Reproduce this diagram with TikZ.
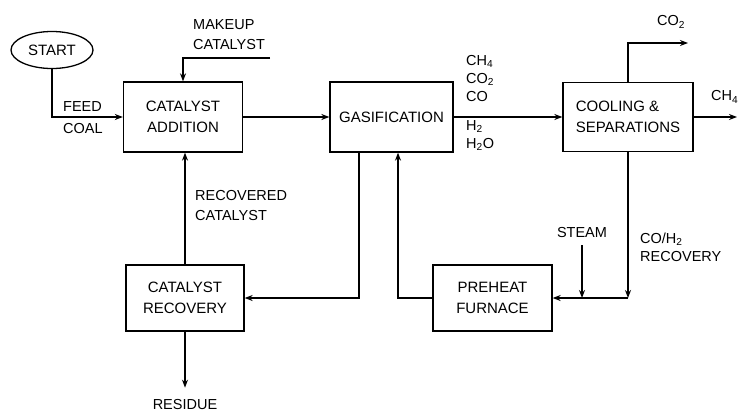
\documentclass[tikz,border=0pt]{standalone}
\usepackage{fontspec}
\setmainfont{Liberation Sans}
\usetikzlibrary{shapes.geometric, arrows.meta, positioning}

\begin{document}
\begin{tikzpicture}[
    x=1pt, y=-1pt,
    >={Stealth[length=8pt,width=6pt]},
    box/.style={rectangle, draw, line width=1.3pt, minimum width=#1, minimum height=68pt, inner sep=0pt, align=center, font=\fontsize{15}{21}\selectfont},
    box/.default=120pt,
    lbl/.style={font=\fontsize{14.5}{20}\selectfont, inner sep=0pt, align=left},
    gaslbl/.style={font=\fontsize{14.5}{18}\selectfont, inner sep=0pt, align=left},
    arr/.style={->, line width=1.3pt}
]
\useasboundingbox (0,0) rectangle (738,415);

% Top row: start, addition, gasification, cooling
\node[ellipse, draw, line width=1.3pt, minimum width=82pt, minimum height=37pt, inner sep=0pt, font=\fontsize{15}{17}\selectfont] (start) at (52,50) {START};
\node[box=119pt, minimum height=70pt] (add) at (183,117) {CATALYST\\ADDITION};
\node[box=123pt, minimum height=70pt] (gas) at (391.5,117) {GASIFICATION};
\node[box=130pt, minimum height=69pt, align=left] (cool) at (628,117) {COOLING \&\\SEPARATIONS};

% Bottom row: recovery and furnace
\node[box=118pt, minimum height=66pt] (rec) at (185,298) {CATALYST\\RECOVERY};
\node[box=119pt, minimum height=66pt] (pre) at (492.5,298) {PREHEAT\\FURNACE};

% Stream labels
\node[lbl, anchor=south west] (feed) at (63,112) {FEED};
\node[lbl, anchor=north west] (coal) at (63,123) {COAL};
\node[lbl, anchor=south west] (mkup) at (193,50) {MAKEUP\\CATALYST};
\node[gaslbl, anchor=south west] (prodtop) at (466,102) {CH\textsubscript{4}\\CO\textsubscript{2}\\CO};
\node[gaslbl, anchor=north west] (prodbot) at (466,120) {H\textsubscript{2}\\H\textsubscript{2}O};
\node[lbl] (co2) at (671,22) {CO\textsubscript{2}};
\node[lbl, anchor=west] (ch4) at (711,97) {CH\textsubscript{4}};
\node[lbl, anchor=north west] (reccat) at (195,190) {RECOVERED\\CATALYST};
\node[lbl] (res) at (185,405) {RESIDUE};
\node[lbl] (steam) at (582,233) {STEAM};
\node[gaslbl, anchor=north west] (coh2) at (640,233) {CO/H\textsubscript{2}\\RECOVERY};

% free ends
\coordinate (mkin) at (270,58);
\coordinate (co2end) at (688,43);
\coordinate (ch4end) at (737,117);

% ---- ARROWS ----
% Main line
\draw[arr] (start.south) |- (add.west);
\draw[arr] (mkin) -| (add.north);
\draw[arr] (add.east) -- (gas.west);
\draw[arr] (gas.east) -- (cool.west);
\draw[arr] (cool.north) |- (co2end);
\draw[arr] (cool.east) -- (ch4end);

% Catalyst loop
\draw[arr] ([xshift=-32.5pt]gas.south) |- (rec.east);
\draw[arr] (rec.north) -- (rec.north |- add.south);
\draw[arr] (rec.south) -- ([yshift=12pt]res.north);

% Gas recycle loop
\draw[arr] (cool.south) -- (cool.south |- pre.east);
\draw[arr] (cool.south |- pre.east) -- (pre.east);
\draw[arr] ([yshift=-7pt]steam.south) -- (steam |- pre.east);
\draw[arr] (pre.west) -| ([xshift=6.5pt]gas.south);

\end{tikzpicture}
\end{document}
